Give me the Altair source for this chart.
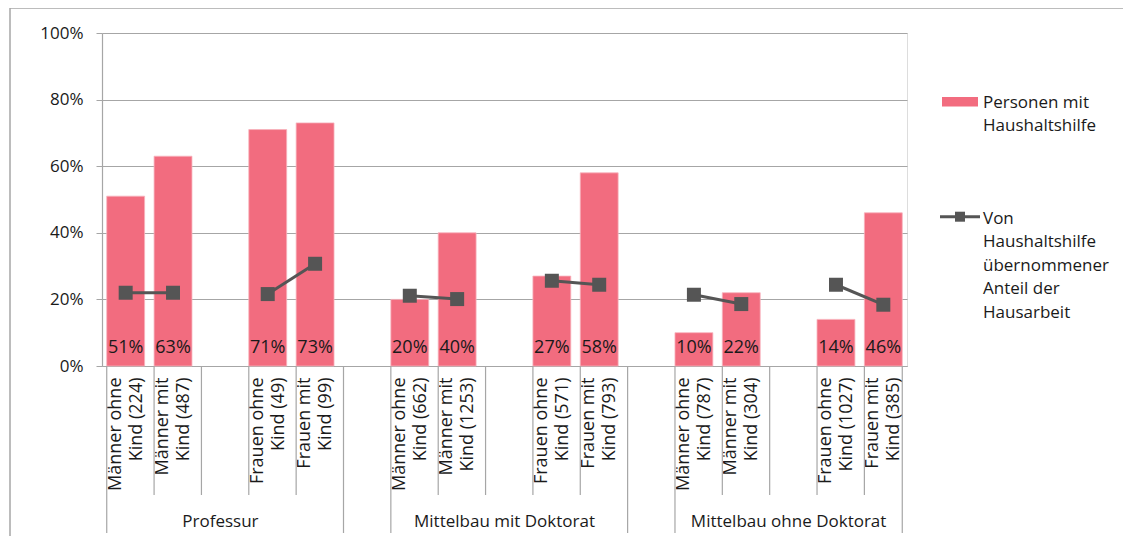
import altair as alt
import pandas as pd

# ---------------- data ----------------
gruppen = ["Professur", "Mittelbau mit Doktorat", "Mittelbau ohne Doktorat"]
kategorien = [
    "Männer ohne\nKind (224)", "Männer mit\nKind (487)",
    "Frauen ohne\nKind (49)", "Frauen mit\nKind (99)",
    "Männer ohne\nKind (662)", "Männer mit\nKind (1253)",
    "Frauen ohne\nKind (571)", "Frauen mit\nKind (793)",
    "Männer ohne\nKind (787)", "Männer mit\nKind (304)",
    "Frauen ohne\nKind (1027)", "Frauen mit\nKind (385)",
]
geschlecht = ["Männer", "Männer", "Frauen", "Frauen"] * 3
personen_mit_haushaltshilfe = [0.51, 0.63, 0.71, 0.73, 0.20, 0.40, 0.27, 0.58, 0.10, 0.22, 0.14, 0.46]
anteil_hausarbeit = [0.22, 0.22, 0.216, 0.307, 0.211, 0.201, 0.256, 0.244, 0.214, 0.186, 0.244, 0.184]
y_ticks = [0, 0.2, 0.4, 0.6, 0.8, 1.0]

legende_balken = "Personen mit\nHaushaltshilfe"
legende_linie = "Von\nHaushaltshilfe\nübernommener\nAnteil der\nHausarbeit"

# ---------------- styles ----------------
FONT = "Open Sans"
FS = 17
FS_X = 18
PINK = "#F26C7F"
DARK = "#555555"
GRID = "#A6A6A6"
TXT = "#1a1a1a"

# slot domain: each group = [cat, cat, gap, cat, cat], groups separated by one gap
slots = []
gap_mitte = []
gruppe_start = []
for gi, g in enumerate(gruppen):
    c = kategorien[gi * 4: gi * 4 + 4]
    gruppe_start.append(c[0])
    mid = f"gap{gi}a"
    gap_mitte.append(mid)
    slots += [c[0], c[1], mid, c[2], c[3]]
    if gi < len(gruppen) - 1:
        slots.append(f"gap{gi}b")

df = pd.DataFrame({
    "slot": kategorien,
    "gruppe": [g for g in gruppen for _ in range(4)],
    "geschlecht": geschlecht,
    "hilfe": personen_mit_haushaltshilfe,
    "anteil": anteil_hausarbeit,
})
df["paar"] = df["gruppe"] + " " + df["geschlecht"]

xscale = alt.Scale(domain=slots, paddingInner=0.2, paddingOuter=0.1)

def X(**kw):
    return alt.X("slot:N", scale=xscale, sort=slots, title=None, **kw)

bars = alt.Chart(df).mark_bar(color=PINK, stroke="#F8B3BD", strokeWidth=0.8).encode(
    x=X(axis=alt.Axis(
        labelExpr="indexof(datum.value, 'gap') == 0 ? '' : split(datum.value, '\\n')",
        labelAngle=-90, labelAlign="right", labelBaseline="middle",
        labelPadding=11, labelLineHeight=21, labelOffset=-10,
        labelOverlap=False, labelLimit=300,
        ticks=False, domainColor=GRID, domainWidth=1.2, grid=False,
        labelFontSize=FS_X, labelColor=TXT, labelFont=FONT,
    )),
    y=alt.Y("hilfe:Q", scale=alt.Scale(domain=[0, 1]), title=None,
            axis=alt.Axis(values=y_ticks, format=".0%", grid=True, gridColor=GRID,
                          gridWidth=1.2, tickSize=6, tickColor=GRID, domainColor=GRID,
                          domainWidth=1.2, labelPadding=13, labelFontSize=FS,
                          labelColor=TXT, labelFont=FONT)),
)

bar_labels = alt.Chart(df).mark_text(
    font=FONT, fontSize=FS_X, color=TXT, baseline="alphabetic", align="center"
).encode(
    x=X(), y=alt.value(320), text=alt.Text("hilfe:Q", format=".0%"),
)

lines = alt.Chart(df).mark_line(color=DARK, strokeWidth=3).encode(
    x=X(), y=alt.Y("anteil:Q", scale=alt.Scale(domain=[0, 1])), detail="paar:N",
)
points = alt.Chart(df).mark_point(shape="square", filled=True, size=196, color=DARK, opacity=1).encode(
    x=X(), y=alt.Y("anteil:Q", scale=alt.Scale(domain=[0, 1])),
)

# separators below the axis
sep_df = pd.DataFrame({"slot": slots})
lang = set(gruppe_start) | {s for s in slots if s.endswith("b")}
sep_df["lang"] = sep_df["slot"].isin(lang)

sep_short = alt.Chart(sep_df[~sep_df["lang"]]).mark_rule(color=GRID, strokeWidth=1.2).encode(
    x=X(bandPosition=0), y=alt.value(333), y2=alt.value(462),
)
sep_long = alt.Chart(sep_df[sep_df["lang"]]).mark_rule(color=GRID, strokeWidth=1.2).encode(
    x=X(bandPosition=0), y=alt.value(333), y2=alt.value(500),
)
sep_end = alt.Chart(pd.DataFrame({"slot": [slots[-1]]})).mark_rule(color=GRID, strokeWidth=1.2).encode(
    x=X(bandPosition=1), y=alt.value(333), y2=alt.value(500),
)

grp_df = pd.DataFrame({"slot": gap_mitte, "gruppe": gruppen})
grp_labels = alt.Chart(grp_df).mark_text(
    font=FONT, fontSize=FS, color=TXT, baseline="middle", align="center"
).encode(x=X(), y=alt.value(489), text="gruppe:N")

# legend
one = pd.DataFrame({"k": [0]})
leg_rect = alt.Chart(one).mark_rect(color=PINK).encode(
    x=alt.value(840), x2=alt.value(876), y=alt.value(64), y2=alt.value(73.5))
leg_text1 = alt.Chart(pd.DataFrame({"t": [legende_balken]})).mark_text(
    font=FONT, fontSize=FS, color=TXT, align="left", baseline="alphabetic",
    lineHeight=23.5, lineBreak="\n"
).encode(x=alt.value(881), y=alt.value(74.5), text=alt.Text("t:N"))
leg_line = alt.Chart(one).mark_rule(color=DARK, strokeWidth=3).encode(
    x=alt.value(838), x2=alt.value(878), y=alt.value(183.7))
leg_pt = alt.Chart(one).mark_point(shape="square", filled=True, size=100, color=DARK, opacity=1).encode(
    x=alt.value(858), y=alt.value(183.7))
leg_text2 = alt.Chart(pd.DataFrame({"t": [legende_linie]})).mark_text(
    font=FONT, fontSize=FS, color=TXT, align="left", baseline="alphabetic",
    lineHeight=23.4, lineBreak="\n"
).encode(x=alt.value(881), y=alt.value(191), text=alt.Text("t:N"))

frame = alt.Chart(one).mark_rect(fillOpacity=0, stroke=GRID, strokeWidth=1.5).encode(
    x=alt.value(-92), x2=alt.value(1060), y=alt.value(-25), y2=alt.value(560))

chart = alt.layer(
    frame, bars, bar_labels, lines, points, sep_short, sep_long, sep_end, grp_labels,
    leg_rect, leg_text1, leg_line, leg_pt, leg_text2,
).properties(
    width=805, height=333,
    autosize=alt.AutoSizeParams(type="none"),
    padding={"left": 94, "top": 25, "right": 216, "bottom": 170},
).configure_view(stroke=None).configure(font=FONT)

chart.save("out.html", embed_options={"renderer": "svg", "actions": False})
